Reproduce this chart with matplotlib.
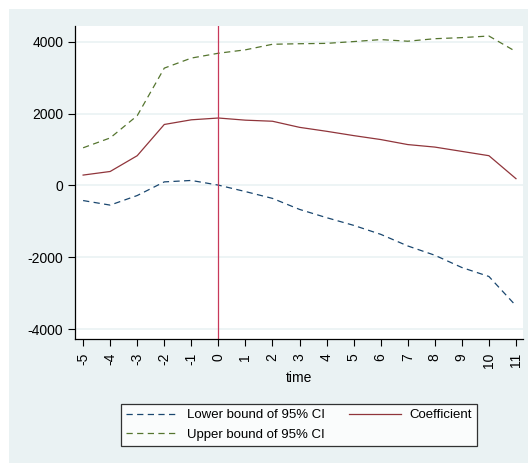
import matplotlib.pyplot as plt
from matplotlib.patches import Rectangle

plt.rcParams['font.family'] = ['Liberation Sans', 'DejaVu Sans']

# event-time estimates
time = [-5, -4, -3, -2, -1, 0, 1, 2, 3, 4, 5, 6, 7, 8, 9, 10, 11]
coef = [290, 390, 830, 1700, 1830, 1880, 1820, 1790, 1620, 1510, 1390,
        1280, 1140, 1070, 950, 830, 190]
upper = [1050, 1325, 1945, 3270, 3550, 3685, 3780, 3935, 3950, 3960, 4010,
         4065, 4020, 4090, 4120, 4165, 3730]
lower = [-420, -547, -280, 100, 140, 10, -170, -360, -667, -897, -1111,
         -1361, -1685, -1944, -2286, -2536, -3352]

yticks = [-4000, -2000, 0, 2000, 4000]

bg = '#EAF2F3'
navy = '#1A476F'
maroon = '#90353B'
green = '#55752F'

fig = plt.figure(figsize=(5.28, 4.63), dpi=100)
fig.patches.append(Rectangle((9 / 528, 0), 1, 1 - 9 / 463,
                             transform=fig.transFigure, facecolor=bg,
                             edgecolor='none', zorder=-10))

ax = fig.add_axes([75 / 528, 1 - 339 / 463, 448 / 528, 313 / 463])
ax.set_facecolor('white')

l1, = ax.plot(time, lower, color=navy, lw=0.9, dashes=(5, 3.5),
              label='Lower bound of 95% CI')
l2, = ax.plot(time, upper, color=green, lw=0.9, dashes=(5, 3.5),
              label='Upper bound of 95% CI')
l3, = ax.plot(time, coef, color=maroon, lw=0.9, label='Coefficient')
ax.axvline(0, color='#C8385A', lw=0.9)

ax.set_xlim(-5.3, 11.26)
ax.set_ylim(-4278, 4444)
ax.set_xticks(time)
ax.set_xticklabels([str(t) for t in time], rotation=90)
ax.set_yticks(yticks)
ax.set_yticklabels([str(v) for v in yticks])
ax.tick_params(labelsize=10, length=5, width=0.8, color='black')
ax.tick_params(axis='x', pad=5)
ax.grid(axis='y', color=bg, lw=1.2)
ax.set_axisbelow(True)

for s in ['top', 'right']:
    ax.spines[s].set_visible(False)
for s in ['left', 'bottom']:
    ax.spines[s].set_linewidth(0.9)

ax.set_xlabel('time', fontsize=10, labelpad=2)

leg = fig.legend(handles=[l1, l2, l3], ncol=2, mode='expand',
                 bbox_to_anchor=(121 / 528, 1 - 446 / 463, 356 / 528, 51 / 463),
                 loc='lower left', fontsize=9.5, frameon=True, fancybox=False,
                 handlelength=4.0, handletextpad=0.6, borderaxespad=0,
                 labelspacing=0.55)
leg.get_frame().set_edgecolor('black')
leg.get_frame().set_linewidth(0.9)

fig.savefig('out.png', dpi=100)
